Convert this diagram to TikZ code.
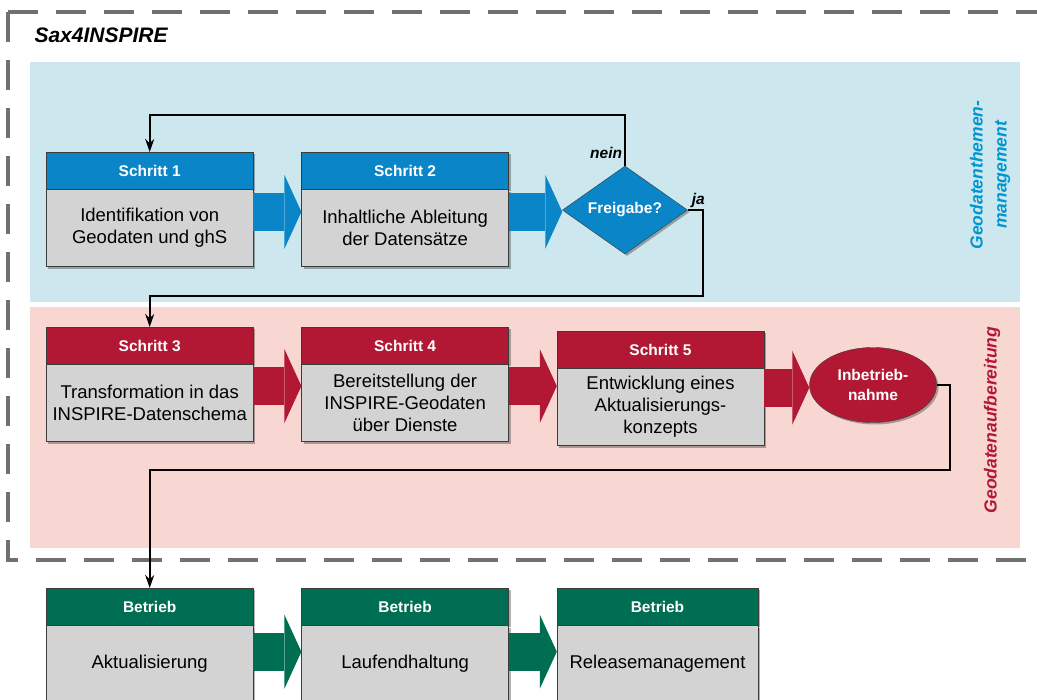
\documentclass[tikz,border=0pt]{standalone}
\usepackage{fontspec}
\setmainfont{Liberation Sans}
\usetikzlibrary{positioning,shapes.geometric,arrows.meta,calc,shadows}
\definecolor{stepblue}{RGB}{10,134,200}
\definecolor{stepred}{RGB}{178,24,52}
\definecolor{stepgreen}{RGB}{0,110,82}
\definecolor{bandblue}{RGB}{204,232,238}
\definecolor{bandpink}{RGB}{248,214,210}
\definecolor{boxgray}{RGB}{211,211,211}
\definecolor{edgegray}{RGB}{60,60,60}
\definecolor{dashgray}{RGB}{112,112,112}
\definecolor{labelblue}{RGB}{0,150,210}
\begin{document}
\begin{tikzpicture}[x=1pt,y=-1pt,
	shade/.style={drop shadow={shadow xshift=2pt,shadow yshift=-2pt,fill=black,opacity=.3}},
	head/.style={draw=edgegray,fill=#1,text=white,shade,minimum width=207pt,minimum height=37pt,
		inner sep=0pt,font=\bfseries\fontsize{15.5}{18}\selectfont},
	body/.style={draw=edgegray,fill=boxgray,shade,minimum width=207pt,minimum height=77pt,
		inner sep=2pt,align=center,font=\fontsize{18.5}{22}\selectfont,below=0pt of #1},
	bigarrow/.style={draw=#1,line width=38pt,-{Triangle[length=17pt,width=74pt,line width=0pt]}},
	link/.style={draw,line width=1.8pt,-{Stealth[length=13pt,width=9pt]}},
	lbl/.style={font=\bfseries\itshape\fontsize{15.5}{18}\selectfont,inner sep=2pt},
	side/.style={rotate=90,text=#1,align=center,font=\bfseries\itshape\fontsize{17.5}{24}\selectfont},
	frame/.style={dashgray,line width=4pt,dash pattern=on 30pt off 18pt}]
\useasboundingbox (0,0) rectangle (1037,700);
% bands and frame
\fill[bandblue] (30,62) rectangle (1020,302);
\fill[bandpink] (30,307) rectangle (1020,548);
\draw[frame] (8,12) -- (1070,12);
\draw[frame] (8,12) -- (8,560) -- (1070,560);
\node[font=\bfseries\itshape\fontsize{21}{25}\selectfont,anchor=west] (title) at (31,35) {Sax4INSPIRE};
\node[side=labelblue] (gtm) at (990,175) {Geodatenthemen-\\management};
\node[side=stepred] (gab) at (992,420) {Geodatenaufbereitung};

% Geodatenthemenmanagement
\node[head=stepblue,anchor=north west] (s1h) at (46,152) {Schritt 1};
\node[body=s1h] (s1) {Identifikation von\\Geodaten und ghS};
\node[head=stepblue,right=48pt of s1h] (s2h) {Schritt 2};
\node[body=s2h] (s2) {Inhaltliche Ableitung\\der Datensätze};
\node[diamond,draw=edgegray,fill=stepblue,text=white,shade,aspect=1.4,inner sep=0pt,
	minimum width=125pt,minimum height=88pt,font=\bfseries\fontsize{15.5}{18}\selectfont] (dia) at (625,210) {Freigabe?};

% Geodatenaufbereitung
\node[head=stepred,anchor=north west] (s3h) at (46,327) {Schritt 3};
\node[body=s3h] (s3) {Transformation in das\\INSPIRE-Datenschema};
\node[head=stepred,right=48pt of s3h] (s4h) {Schritt 4};
\node[body=s4h] (s4) {Bereitstellung der\\INSPIRE-Geodaten\\über Dienste};
\node[head=stepred,right=48pt of s4h,yshift=-4pt] (s5h) {Schritt 5};
\node[body=s5h] (s5) {Entwicklung eines\\Aktualisierungs-\\konzepts};
\node[ellipse,draw=edgegray,fill=stepred,text=white,shade,inner sep=0pt,align=center,
	minimum width=127pt,minimum height=75pt,font=\bfseries\fontsize{15.5}{20}\selectfont] (inb) at (873,385) {Inbetrieb-\\nahme};

% Betrieb
\node[head=stepgreen,anchor=north west] (b1h) at (46,588) {Betrieb};
\node[body=b1h] (b1) {Aktualisierung};
\node[head=stepgreen,right=48pt of b1h] (b2h) {Betrieb};
\node[body=b2h] (b2) {Laufendhaltung};
\node[head=stepgreen,right=48pt of b2h,minimum width=201pt] (b3h) {Betrieb};
\node[body=b3h,minimum width=201pt] (b3) {Releasemanagement};

% big arrows
\coordinate (a1) at ($(s1.north east)!.29!(s1.south east)$);
\coordinate (a2) at ($(s2.north east)!.29!(s2.south east)$);
\coordinate (a3) at ($(s3.north east)!.28!(s3.south east)$);
\coordinate (a4) at ($(s4.north east)!.28!(s4.south east)$);
\coordinate (a5) at ($(s5.north east)!.25!(s5.south east)$);
\coordinate (a6) at ($(b1.north east)!.34!(b1.south east)$);
\coordinate (a7) at ($(b2.north east)!.34!(b2.south east)$);
\draw[bigarrow=stepblue] (a1) -- (a1 -| s2.west);
\draw[bigarrow=stepblue] (a2) -- (a2 -| dia.west);
\draw[bigarrow=stepred] (a3) -- (a3 -| s4.west);
\draw[bigarrow=stepred] (a4) -- (a4 -| s5.west);
\draw[bigarrow=stepred] (a5) -- (a5 -| inb.west);
\draw[bigarrow=stepgreen] (a6) -- (a6 -| b2.west);
\draw[bigarrow=stepgreen] (a7) -- (a7 -| b3.west);

% connectors
\draw[link] (dia.north) -- node[lbl,pos=.25,left] (nein) {nein} ++(0,-51) -| (s1h.north);
\node[lbl,anchor=south west,xshift=2pt] (ja) at (dia.east) {ja};
\draw[link] (dia.east) -| ++(15,86) -| (s3h.north);
\draw[link] (inb.east) -| ++(13,85) -| (b1h.north);
\end{tikzpicture}
\end{document}
